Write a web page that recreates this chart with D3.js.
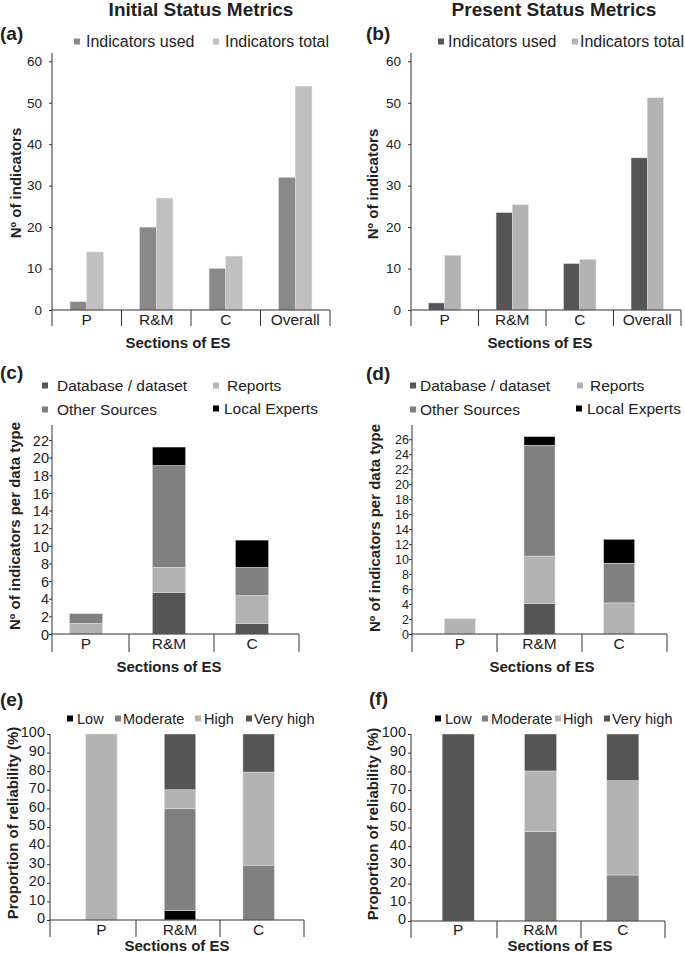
<!DOCTYPE html>
<html><head><meta charset="utf-8">
<script src="https://cdn.jsdelivr.net/npm/d3@7/dist/d3.min.js"></script>
<style>body{margin:0;background:#fff}</style>
</head><body>
<script>
// ---------- DATA ----------
const catsAB = ["P", "R&M", "C", "Overall"];
const initialUsed  = [2, 20, 10, 32];
const initialTotal = [14, 27, 13, 54];
const presentUsed  = [1.7, 23.5, 11.2, 36.7];
const presentTotal = [13.2, 25.4, 12.2, 51.2];
const ticksAB = [0, 10, 20, 30, 40, 50, 60];

const catsCF = ["P", "R&M", "C"];
// data types (initial)
const initDatabase = [0, 4.7, 1.2];
const initReports  = [1.2, 2.85, 3.15];
const initOther    = [1.1, 11.55, 3.2];
const initLocal    = [0, 2.1, 3.1];
const ticksC = [0,2,4,6,8,10,12,14,16,18,20,22];
// data types (present)
const presDatabase = [0, 4.1, 0];
const presReports  = [2.05, 6.3, 4.15];
const presOther    = [0, 14.8, 5.3];
const presLocal    = [0, 1.15, 3.2];
const ticksD = [0,2,4,6,8,10,12,14,16,18,20,22,24,26];
// reliability (%)
const initLow = [0, 5, 0];
const initModerate = [0, 55, 29.5];
const initHigh = [100, 10, 50];
const initVeryHigh = [0, 30, 20.5];
const presLow = [0, 0, 0];
const presModerate = [0, 47.8, 24.6];
const presHigh = [0, 32.4, 50.4];
const presVeryHigh = [100, 19.8, 25];
const ticksEF = [0,10,20,30,40,50,60,70,80,90,100];

// ---------- DRAW ----------
const FONT = "'Liberation Sans', Arial, sans-serif";
const svg = d3.select("body").append("svg")
  .attr("width", 685).attr("height", 953)
  .style("font-family", FONT);

const C_DARK = "#555555", C_MID = "#808080", C_LIGHT = "#b3b3b3", C_BLACK = "#000000";

function panel(cfg) {
  const g = svg.append("g");
  const y = d3.scaleLinear().domain([0, cfg.yMax]).range([cfg.baseY, cfg.topY]);
  const xA = d3.scaleBand().domain(cfg.cats).range(cfg.axisRange).padding(0);
  const xB = d3.scaleBand().domain(cfg.cats).range(cfg.barRange)
    .paddingInner(cfg.barPad).paddingOuter(cfg.barPad / 2);

  if (cfg.mode === "grouped") {
    const x1 = d3.scaleBand().domain(cfg.series.map((s, i) => i)).range([0, xB.bandwidth()]);
    cfg.series.forEach((s, si) => {
      g.selectAll(null).data(s.values).enter().append("rect")
        .attr("x", (d, i) => xB(cfg.cats[i]) + x1(si))
        .attr("width", x1.bandwidth())
        .attr("y", d => y(d))
        .attr("height", d => y(0) - y(d))
        .attr("fill", s.color)
        .attr("stroke", "#dedede").attr("stroke-width", 0.5);
    });
  } else {
    const rows = cfg.cats.map((c, i) => {
      const o = { cat: c };
      cfg.series.forEach((s, si) => o["s" + si] = s.values[i]);
      return o;
    });
    const stack = d3.stack().keys(cfg.series.map((s, si) => "s" + si))(rows);
    stack.forEach((layer, si) => {
      g.selectAll(null).data(layer).enter().append("rect")
        .attr("x", d => xB(d.data.cat))
        .attr("width", xB.bandwidth())
        .attr("y", d => y(d[1]))
        .attr("height", d => Math.max(0, y(d[0]) - y(d[1])))
        .attr("fill", cfg.series[si].color)
        .attr("stroke", "#e6e6e6").attr("stroke-width", d => (d[1] - d[0]) > 0 ? 0.5 : 0);
    });
  }

  // y axis
  const ax = g.append("g").attr("transform", `translate(${cfg.yAxisX},0)`)
    .call(d3.axisLeft(y).tickValues(cfg.ticks).tickSize(3).tickPadding(cfg.tickPad));
  ax.select(".domain").remove();
  ax.selectAll(".tick line").attr("stroke", "#333");
  ax.selectAll(".tick text").attr("fill", "#222").style("font-size", cfg.tickFont + "px")
    .style("font-family", FONT).attr("dy", cfg.tickDy || "0.32em");
  g.append("line").attr("x1", cfg.yAxisX).attr("x2", cfg.yAxisX)
    .attr("y1", cfg.topY).attr("y2", cfg.sepBottom).attr("stroke", "#333");
  // x axis baseline
  g.append("line").attr("x1", cfg.yAxisX).attr("x2", cfg.axisRange[1])
    .attr("y1", cfg.baseY).attr("y2", cfg.baseY).attr("stroke", "#333");
  // separators
  g.selectAll(null).data(cfg.cats).enter().append("line")
    .attr("x1", d => xA(d) + xA.bandwidth()).attr("x2", d => xA(d) + xA.bandwidth())
    .attr("y1", cfg.baseY).attr("y2", cfg.sepBottom).attr("stroke", "#333");
  // category labels
  g.selectAll(null).data(cfg.cats).enter().append("text")
    .attr("x", d => xB(d) + xB.bandwidth() / 2).attr("y", cfg.catLabelY)
    .attr("text-anchor", "middle").style("font-size", cfg.catFont + "px")
    .attr("fill", "#222").text(d => d);

  // legend
  cfg.legend.forEach(L => {
    g.append("rect").attr("x", L.sx).attr("y", L.y - 8.5).attr("width", 6).attr("height", 6)
      .attr("fill", L.color);
    g.append("text").attr("x", L.tx).attr("y", L.y).style("font-size", cfg.legFont + "px")
      .attr("fill", "#222").text(L.label);
  });

  // panel letter
  g.append("text").attr("x", cfg.letter[1]).attr("y", cfg.letter[2])
    .style("font-size", "19px").style("font-weight", "bold").attr("fill", "#222").text(cfg.letter[0]);
  // y title
  g.append("text").attr("transform", `translate(${cfg.yTitle[1]},${cfg.yTitle[2]}) rotate(-90)`)
    .attr("text-anchor", "middle").style("font-size", "15px").style("font-weight", "bold")
    .attr("fill", "#222").text(cfg.yTitle[0]);
  // x title
  g.append("text").attr("x", cfg.xTitle[0]).attr("y", cfg.xTitle[1])
    .attr("text-anchor", "middle").style("font-size", "15px").style("font-weight", "bold")
    .attr("fill", "#222").text("Sections of ES");
}

// titles
svg.append("text").attr("x", 201).attr("y", 15.5).attr("text-anchor", "middle")
  .style("font-size", "19px").style("font-weight", "bold").attr("fill", "#222").text("Initial Status Metrics");
svg.append("text").attr("x", 554).attr("y", 15.5).attr("text-anchor", "middle")
  .style("font-size", "19px").style("font-weight", "bold").attr("fill", "#222").text("Present Status Metrics");

// (a)
panel({
  cats: catsAB, mode: "grouped",
  series: [{ values: initialUsed, color: "#898989" }, { values: initialTotal, color: "#c0c0c0" }],
  yMax: 62, baseY: 310, topY: 53, ticks: ticksAB, tickFont: 13.5, tickPad: 7,
  yAxisX: 52, axisRange: [52, 330], barRange: [52, 330], barPad: 0.52,
  sepBottom: 326, catLabelY: 325, catFont: 15.5, legFont: 16,
  legend: [
    { label: "Indicators used", color: "#898989", sx: 74, tx: 86, y: 47 },
    { label: "Indicators total", color: "#c0c0c0", sx: 213, tx: 225, y: 47 }
  ],
  letter: ["(a)", 0, 40], yTitle: ["Nº of indicators", 21, 183], xTitle: [178, 348]
});
// (b)
panel({
  cats: catsAB, mode: "grouped",
  series: [{ values: presentUsed, color: C_DARK }, { values: presentTotal, color: C_LIGHT }],
  yMax: 62, baseY: 310, topY: 53, ticks: ticksAB, tickFont: 13.5, tickPad: 7,
  yAxisX: 411, axisRange: [411, 681], barRange: [411, 681], barPad: 0.52,
  sepBottom: 326, catLabelY: 325, catFont: 15.5, legFont: 16,
  legend: [
    { label: "Indicators used", color: C_DARK, sx: 438, tx: 448, y: 47 },
    { label: "Indicators total", color: C_LIGHT, sx: 572, tx: 580, y: 47 }
  ],
  letter: ["(b)", 366, 40], yTitle: ["Nº of indicators", 378, 184], xTitle: [540, 348]
});
// (c)
panel({
  cats: catsCF, mode: "stacked",
  series: [
    { values: initDatabase, color: C_DARK }, { values: initReports, color: C_LIGHT },
    { values: initOther, color: C_MID }, { values: initLocal, color: C_BLACK }
  ],
  yMax: 23.7, baseY: 634, topY: 425, ticks: ticksC, tickFont: 14.5, tickPad: 0, tickDy: "0.36em",
  yAxisX: 52, axisRange: [44, 299], barRange: [44.5, 293.5], barPad: 0.6,
  sepBottom: 652, catLabelY: 649, catFont: 15.5, legFont: 15.5,
  legend: [
    { label: "Database / dataset", color: C_DARK, sx: 42, tx: 57, y: 391 },
    { label: "Reports", color: C_LIGHT, sx: 213, tx: 227, y: 391 },
    { label: "Other Sources", color: C_MID, sx: 42, tx: 57, y: 415 },
    { label: "Local Experts", color: C_BLACK, sx: 213, tx: 224, y: 414 }
  ],
  letter: ["(c)", 0, 379], yTitle: ["Nº of indicators per data type", 20, 526], xTitle: [169, 672]
});
// (d)
panel({
  cats: catsCF, mode: "stacked",
  series: [
    { values: presDatabase, color: C_DARK }, { values: presReports, color: C_LIGHT },
    { values: presOther, color: C_MID }, { values: presLocal, color: C_BLACK }
  ],
  yMax: 27.9, baseY: 634, topY: 425, ticks: ticksD, tickFont: 12.5, tickPad: 0, tickDy: "0.36em",
  yAxisX: 412, axisRange: [412, 667], barRange: [420, 659], barPad: 0.61,
  sepBottom: 652, catLabelY: 649, catFont: 15.5, legFont: 15.5,
  legend: [
    { label: "Database / dataset", color: C_DARK, sx: 410, tx: 420, y: 391 },
    { label: "Reports", color: C_LIGHT, sx: 577, tx: 590, y: 391 },
    { label: "Other Sources", color: C_MID, sx: 410, tx: 420, y: 415 },
    { label: "Local Experts", color: C_BLACK, sx: 576, tx: 587, y: 414 }
  ],
  letter: ["(d)", 366, 380], yTitle: ["Nº of indicators per data type", 380, 528], xTitle: [542, 672]
});
// (e)
panel({
  cats: catsCF, mode: "stacked",
  series: [
    { values: initLow, color: C_BLACK }, { values: initModerate, color: C_MID },
    { values: initHigh, color: C_LIGHT }, { values: initVeryHigh, color: C_DARK }
  ],
  yMax: 100, baseY: 920, topY: 734, ticks: ticksEF, tickFont: 14.5, tickPad: 2, tickDy: "0.2em",
  yAxisX: 50, axisRange: [52, 304], barRange: [62, 298], barPad: 0.6,
  sepBottom: 937, catLabelY: 935, catFont: 15.5, legFont: 14.5,
  legend: [
    { label: "Low", color: C_BLACK, sx: 67, tx: 77, y: 724 },
    { label: "Moderate", color: C_MID, sx: 115, tx: 123, y: 724 },
    { label: "High", color: C_LIGHT, sx: 195, tx: 204, y: 724 },
    { label: "Very high", color: C_DARK, sx: 246, tx: 254, y: 724 }
  ],
  letter: ["(e)", 0, 706], yTitle: ["Proportion of reliability (%)", 18, 823], xTitle: [177, 951]
});
// (f)
panel({
  cats: catsCF, mode: "stacked",
  series: [
    { values: presLow, color: C_BLACK }, { values: presModerate, color: C_MID },
    { values: presHigh, color: C_LIGHT }, { values: presVeryHigh, color: C_DARK }
  ],
  yMax: 100, baseY: 921, topY: 734, ticks: ticksEF, tickFont: 14.5, tickPad: 2, tickDy: "0.2em",
  yAxisX: 411, axisRange: [413, 665], barRange: [417, 664], barPad: 0.61,
  sepBottom: 938, catLabelY: 935, catFont: 15.5, legFont: 14.5,
  legend: [
    { label: "Low", color: C_BLACK, sx: 435, tx: 445, y: 724 },
    { label: "Moderate", color: C_MID, sx: 482, tx: 491, y: 724 },
    { label: "High", color: C_LIGHT, sx: 555, tx: 563, y: 724 },
    { label: "Very high", color: C_DARK, sx: 604, tx: 612, y: 724 }
  ],
  letter: ["(f)", 369, 705], yTitle: ["Proportion of reliability (%)", 378, 824], xTitle: [560, 951]
});
</script>
</body></html>
